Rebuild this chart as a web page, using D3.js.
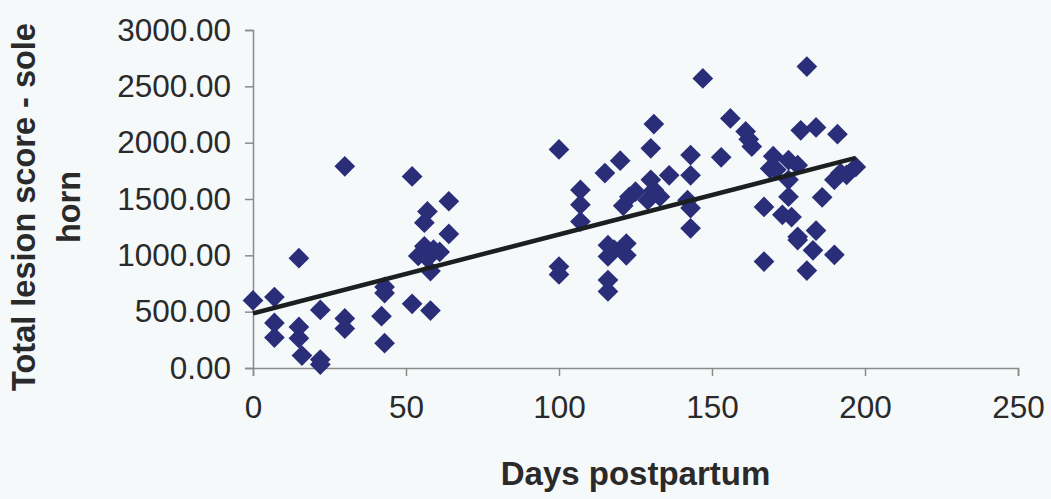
<!DOCTYPE html>
<html>
<head>
<meta charset="utf-8">
<script src="https://cdn.jsdelivr.net/npm/d3@7"></script>
<style>
  body { margin: 0; background: #f6f9fa; }
  svg { display: block; }
</style>
</head>
<body>
<svg id="chart"></svg>
<script>
// Days postpartum vs total lesion score
let days = [0, 7, 7, 7, 15, 15, 15, 16, 22, 22, 22, 30, 30, 30, 42, 43, 43, 43,
    52, 52, 54, 56, 56, 57, 57, 58, 58, 59, 61, 64, 64,
    100, 100, 100, 107, 107, 107, 115, 116, 116, 116, 116, 118, 120, 122, 122, 121,
    123, 125, 129, 130, 130, 131, 131, 133, 136, 142, 143, 143, 143, 143, 147,
    153, 156, 161, 162, 163, 167, 167, 169, 170, 171, 173, 175, 175, 175, 176,
    178, 178, 178, 179, 181, 181, 183, 184, 184, 186, 190, 190, 191, 192, 194, 197];
let scores = [600, 630, 400, 270, 975, 365, 265, 110, 515, 75, 30, 1790, 440, 350, 460, 720, 665, 220,
    1700, 570, 995, 1080, 1290, 1390, 975, 860, 510, 1050, 1030, 1480, 1190,
    1940, 900, 830, 1580, 1450, 1300, 1730, 1090, 990, 780, 680, 1050, 1840, 1105, 1000, 1440,
    1520, 1565, 1490, 1950, 1670, 2165, 1580, 1520, 1710, 1490, 1890, 1710, 1420, 1240, 2570,
    1870, 2215, 2100, 2030, 1965, 1430, 945, 1770, 1880, 1760, 1360, 1845, 1670, 1520, 1340,
    1800, 1165, 1135, 2110, 2675, 865, 1045, 2135, 1220, 1515, 1670, 1005, 2075, 1730, 1715, 1785];

// linear trend line end points
let trendDays = [0, 197];
let trendScores = [485, 1865];

let xTicks = [0, 50, 100, 150, 200, 250];
let yTicks = [0, 500, 1000, 1500, 2000, 2500, 3000];

let width = 1051, height = 499;
let margin = {left: 253, top: 30, right: 33, bottom: 131};

let svg = d3.select('#chart')
    .attr('width', width)
    .attr('height', height);

let x = d3.scaleLinear().domain([0, 250]).range([margin.left, width - margin.right]);
let y = d3.scaleLinear().domain([0, 3000]).range([height - margin.bottom, margin.top]);

let axisColor = '#8a8a8a';
let textColor = '#2a2a2a';

// x axis
let xAxis = svg.append('g')
    .attr('transform', `translate(0,${y(0)})`)
    .call(d3.axisBottom(x).tickValues(xTicks).tickSize(8).tickPadding(20));
// y axis
let yAxis = svg.append('g')
    .attr('transform', `translate(${x(0)},0)`)
    .call(d3.axisLeft(y).tickValues(yTicks).tickSize(8).tickPadding(14).tickFormat(d3.format('.2f')));

[xAxis, yAxis].forEach(a => {
    a.select('.domain').attr('stroke', axisColor).attr('stroke-width', 1.5);
    a.selectAll('.tick line').attr('stroke', axisColor).attr('stroke-width', 1.5);
    a.selectAll('.tick text')
        .attr('fill', textColor)
        .style('font-family', 'Liberation Sans, Arial, sans-serif')
        .style('font-size', '31.5px');
});

// points
let points = days.map((d, i) => ({day: d, score: scores[i]}));
let diamond = d3.symbol().type(d3.symbolSquare).size(215);

svg.append('g')
    .selectAll('path')
    .data(points)
    .enter()
    .append('path')
    .attr('d', diamond)
    .attr('transform', d => `translate(${x(d.day)},${y(d.score)}) rotate(45)`)
    .attr('fill', '#2a2e79');

// trend line
let trend = trendDays.map((d, i) => ({day: d, score: trendScores[i]}));
svg.append('path')
    .datum(trend)
    .attr('d', d3.line().x(d => x(d.day)).y(d => y(d.score)))
    .attr('stroke', '#1c1f1f')
    .attr('stroke-width', 4.5)
    .attr('fill', 'none');

// axis titles
svg.append('text')
    .attr('x', (x(0) + x(250)) / 2)
    .attr('y', 485)
    .attr('text-anchor', 'middle')
    .attr('fill', textColor)
    .style('font-family', 'Liberation Sans, Arial, sans-serif')
    .style('font-weight', 'bold')
    .style('font-size', '33px')
    .text('Days postpartum');

let yTitle = svg.append('text')
    .attr('transform', 'translate(0,207) rotate(-90)')
    .attr('text-anchor', 'middle')
    .attr('fill', textColor)
    .style('font-family', 'Liberation Sans, Arial, sans-serif')
    .style('font-weight', 'bold')
    .style('font-size', '32.5px');
yTitle.append('tspan').attr('x', 0).attr('y', 35).text('Total lesion score - sole');
yTitle.append('tspan').attr('x', 0).attr('y', 80).text('horn');
</script>
</body>
</html>
